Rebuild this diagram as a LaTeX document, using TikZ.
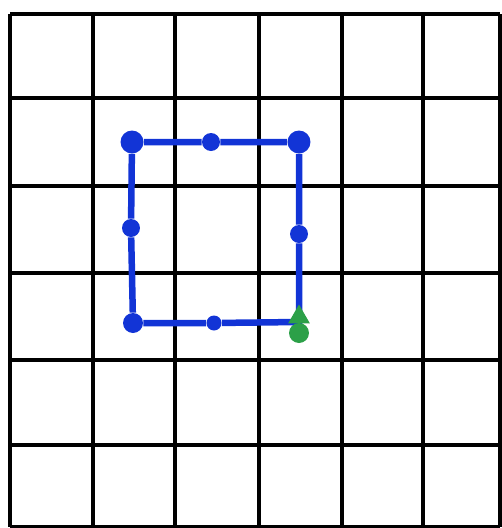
\documentclass[tikz,border=0pt]{standalone}
\usepackage{tikz}
\usetikzlibrary{shapes.geometric}
\definecolor{pathblue}{RGB}{18,52,214}
\definecolor{endgreen}{RGB}{44,160,72}
\tikzstyle{gridline} = [draw=black,line width=0.07cm]
\tikzstyle{walk} = [draw=pathblue,line width=0.13cm]
\tikzstyle{bigdot} = [fill=pathblue,circle,inner sep=0mm,minimum size=0.46cm]
\tikzstyle{middot} = [fill=pathblue,circle,inner sep=0mm,minimum size=0.36cm]
\tikzstyle{gdot} = [fill=endgreen,circle,inner sep=0mm,minimum size=0.4cm]
\tikzstyle{gtri} = [fill=endgreen,regular polygon,regular polygon sides=3,inner sep=0mm,minimum size=0.5cm]

\begin{document}
\begin{tikzpicture}[x=0.02cm,y=-0.02cm]
\useasboundingbox (0,0) rectangle (502,528);

% grid
\foreach \gx in {10,93,175,259,342,423,500}
  \draw[gridline] (\gx,14) -- (\gx,527);
\foreach \gy in {14,98,186,273,360,445,527}
  \draw[gridline] (10,\gy) -- (500,\gy);

% walk round the square
\draw(132,142) node[bigdot] (tl) {};
\draw(211,142) node[middot] (tm) {};
\draw(299,142) node[bigdot] (tr) {};
\draw(299,234) node[middot] (rm) {};
\draw(299,322) coordinate (br);
\draw(214,323) node[middot,minimum size=0.3cm] (bm) {};
\draw(133,323) node[bigdot,minimum size=0.4cm] (bl) {};
\draw(131,228) node[middot] (lm) {};

\draw[walk] (tl) -- (tm) -- (tr) -- (rm) -- (br) -- (bm) -- (bl) -- (lm) -- (tl);

\draw(299,317) node[gtri] (start) {};
\draw(299,333) node[gdot] (stop) {};

\end{tikzpicture}
\end{document}
